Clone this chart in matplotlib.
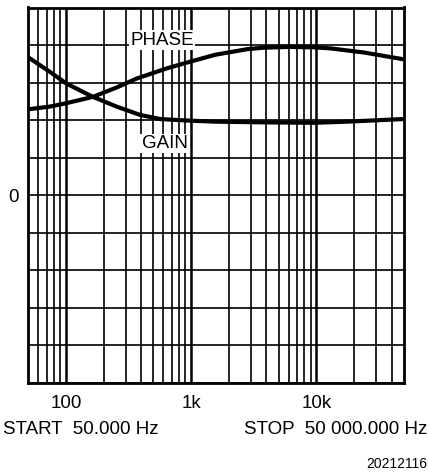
import matplotlib
matplotlib.use("Agg")
import matplotlib.pyplot as plt

plt.rcParams['font.family'] = ['Liberation Sans', 'DejaVu Sans']

# Data (frequency in Hz, value in grid divisions)
phase_freq = [50, 74, 100, 164, 254, 368, 640, 920, 1550, 2800, 3800, 6000, 9600, 13100, 24200, 50000]
phase_val = [2.29, 2.36, 2.45, 2.62, 2.87, 3.11, 3.38, 3.53, 3.74, 3.89, 3.93, 3.95, 3.94, 3.91, 3.80, 3.62]

gain_freq = [50, 74, 100, 164, 254, 390, 565, 920, 1550, 4000, 9600, 17700, 50000]
gain_val = [3.67, 3.29, 2.98, 2.62, 2.36, 2.14, 2.03, 1.99, 1.96, 1.94, 1.93, 1.96, 2.03]

major_ticks = [100, 1000, 10000]
major_labels = ["100", "1k", "10k"]
minor_ticks = [60, 70, 80, 90, 200, 300, 400, 500, 600, 700, 800, 900,
               2000, 3000, 4000, 5000, 6000, 7000, 8000, 9000,
               20000, 30000, 40000]
y_ticks = [-5, -4, -3, -2, -1, 0, 1, 2, 3, 4, 5]

W, H = 429, 472
fig = plt.figure(figsize=(W / 100, H / 100), dpi=100)
ax = fig.add_axes([28.4 / W, 1 - 383 / H, (403.7 - 28.4) / W, (383 - 7.5) / H])

ax.set_xscale('log')
ax.set_xlim(50, 50000)
ax.set_ylim(-5, 5)

ax.set_xticks(major_ticks)
ax.set_xticklabels(major_labels)
ax.set_xticks(minor_ticks, minor=True)
ax.set_xticklabels([], minor=True)
ax.set_yticks(y_ticks)
ax.set_yticklabels(["0" if v == 0 else "" for v in y_ticks])

ax.grid(True, which='major', axis='x', color='black', linewidth=1.8)
ax.grid(True, which='minor', axis='x', color='black', linewidth=1.2)
ax.grid(True, which='major', axis='y', color='black', linewidth=1.2)
ax.tick_params(axis='both', which='both', length=0, labelsize=13.5)
ax.tick_params(axis='x', pad=9)
ax.tick_params(axis='y', pad=7)
for s in ax.spines.values():
    s.set_linewidth(2)
    s.set_color('black')
ax.set_axisbelow(True)

ax.plot(phase_freq, phase_val, color='black', linewidth=3, solid_capstyle='butt',
        solid_joinstyle='round', zorder=3)
ax.plot(gain_freq, gain_val, color='black', linewidth=3, solid_capstyle='butt',
        solid_joinstyle='round', zorder=3)

box = dict(facecolor='white', edgecolor='none', pad=1)
ax.text(586, 4.13, "PHASE", fontsize=13.5, ha='center', va='center', bbox=box, zorder=4)
ax.text(614, 1.38, "GAIN", fontsize=13.5, ha='center', va='center', bbox=box, zorder=4)

fig.text(3 / W, 1 - 430 / H, "START  50.000 Hz", fontsize=13.5, ha='left', va='center')
fig.text(427 / W, 1 - 430 / H, "STOP  50 000.000 Hz", fontsize=13.5, ha='right', va='center')
fig.text(427 / W, 1 - 464 / H, "20212116", fontsize=10, ha='right', va='center')

fig.savefig("out.png", dpi=100)
